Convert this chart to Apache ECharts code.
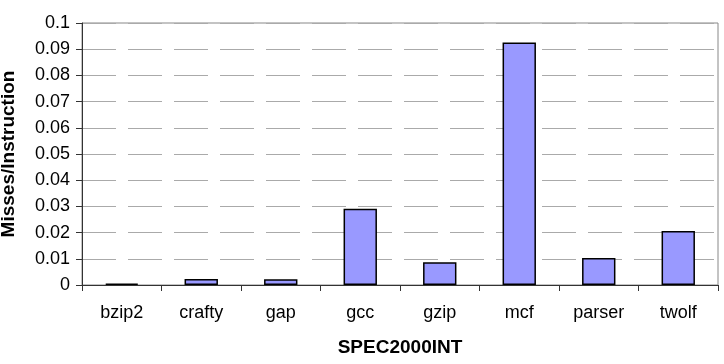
<!DOCTYPE html>
<html>
<head>
<meta charset="utf-8">
<script src="https://cdn.jsdelivr.net/npm/echarts@6/dist/echarts.min.js"></script>
<style>
  html, body { margin: 0; padding: 0; background: #fff; }
  #chart { width: 724px; height: 364px; }
</style>
</head>
<body>
<div id="chart"></div>
<script>
const categories = ['bzip2', 'crafty', 'gap', 'gcc', 'gzip', 'mcf', 'parser', 'twolf'];
const missesPerInstruction = [0.0005, 0.0023, 0.0022, 0.0291, 0.0087, 0.0926, 0.0103, 0.0206];
const yTicks = [0, 0.01, 0.02, 0.03, 0.04, 0.05, 0.06, 0.07, 0.08, 0.09, 0.1];

const chart = echarts.init(document.getElementById('chart'));
const font = 'Liberation Sans, Arial, sans-serif';

chart.setOption({
  animation: false,
  textStyle: { fontFamily: font },
  grid: {
    left: 82, right: 6, top: 23, bottom: 79,
    containLabel: false,
    outerBoundsMode: 'none',
    show: true, borderColor: '#888', borderWidth: 1, backgroundColor: 'transparent'
  },
  xAxis: {
    type: 'category',
    data: categories,
    name: 'SPEC2000INT',
    nameLocation: 'middle',
    nameGap: 53,
    nameTextStyle: { fontFamily: font, fontSize: 19, fontWeight: 'bold', color: '#000' },
    axisLine: { lineStyle: { color: '#333', width: 1 } },
    axisTick: { show: true, alignWithLabel: false, length: 6, lineStyle: { color: '#333' } },
    axisLabel: { fontFamily: font, fontSize: 18, color: '#000', margin: 19 },
    splitLine: { show: false }
  },
  yAxis: {
    type: 'value',
    min: yTicks[0],
    max: yTicks[yTicks.length - 1],
    interval: 0.01,
    name: 'Misses/Instruction',
    nameLocation: 'middle',
    nameGap: 64,
    nameTextStyle: { fontFamily: font, fontSize: 19, fontWeight: 'bold', color: '#000' },
    axisLine: { show: true, lineStyle: { color: '#333', width: 1 } },
    axisTick: { show: true, inside: false, length: 6, lineStyle: { color: '#333' } },
    axisLabel: {
      fontFamily: font, fontSize: 18, color: '#000', margin: 12,
      formatter: v => String(parseFloat(v.toFixed(2)))
    },
    splitLine: { show: true, lineStyle: { color: '#aaa', type: [34, 12], width: 1 } }
  },
  series: [{
    type: 'bar',
    data: missesPerInstruction,
    barWidth: '42%',
    itemStyle: { color: '#9999FF', borderColor: '#000', borderWidth: 1.5 }
  }]
});
</script>
</body>
</html>
